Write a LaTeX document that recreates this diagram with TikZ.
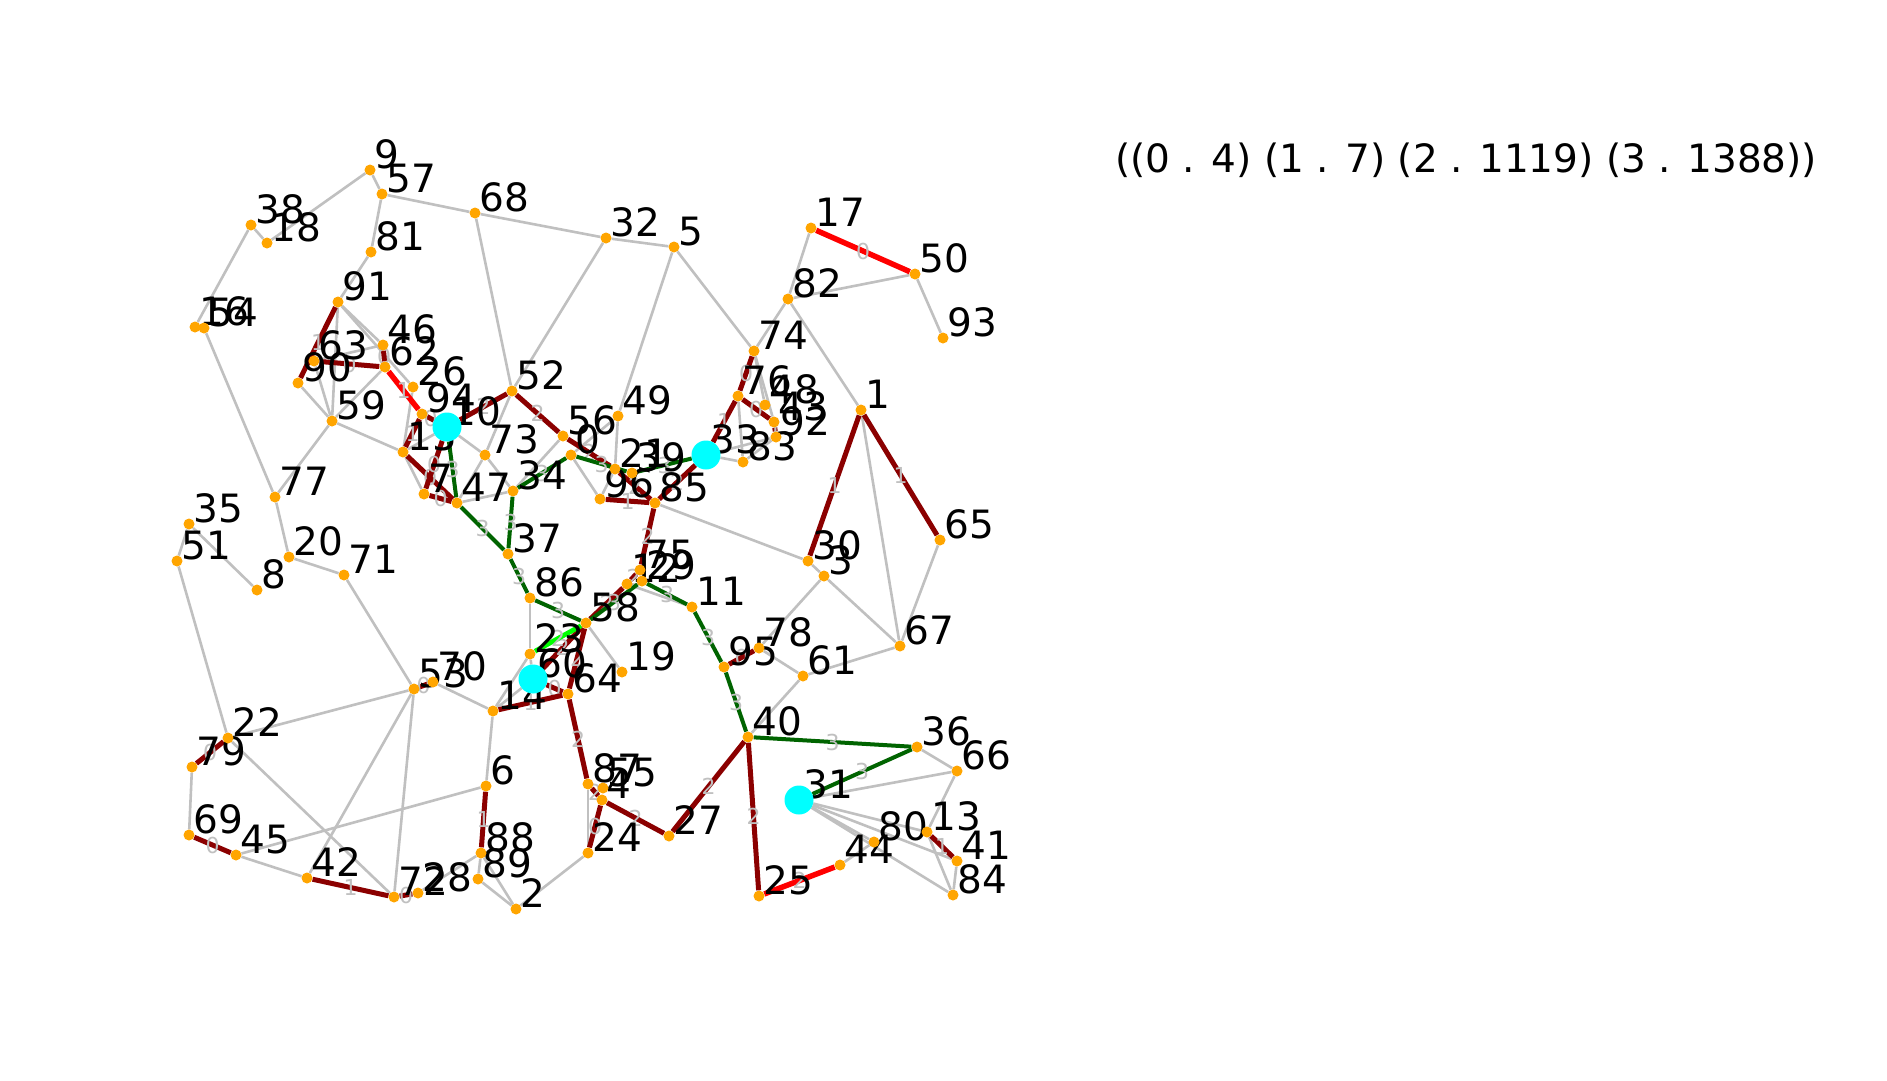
\documentclass[tikz,border=0pt]{standalone}
\usepackage{fontspec}
\setmainfont{DejaVu Sans}
\definecolor{silver}{HTML}{C0C0C0}
\definecolor{dred}{HTML}{8B0000}
\definecolor{dgreen}{HTML}{006400}
\definecolor{orange1}{HTML}{FFA500}
\definecolor{cyan1}{HTML}{00FFFF}
\definecolor{lime1}{HTML}{00FF00}
\pgfdeclarelayer{bg}
\pgfdeclarelayer{edges}
\pgfdeclarelayer{labels}
\pgfsetlayers{bg,edges,labels,main}
\tikzset{
 dot/.style={circle, fill=orange1, inner sep=0pt, minimum size=11pt},
 hub/.style={circle, fill=cyan1, inner sep=0pt, minimum size=29pt},
 lbl/.style={anchor=base west, inner sep=0pt, font=\fontsize{39}{41}\selectfont},
 gr/.style={draw=silver, line width=2.6pt},
 dr/.style={draw=dred, line width=5pt},
 gn/.style={draw=dgreen, line width=4pt},
 rd/.style={draw=red, line width=5.5pt},
 lm/.style={draw=lime1, line width=4.8pt},
 el/.style={font=\fontsize{22}{22}\selectfont, text=silver, inner sep=0pt},
}
\newcommand{\vtx}[4][dot]{%
 \node[#1] (n#2) at (#3,#4) {};
 \begin{pgfonlayer}{labels}\node[lbl] (t#2) at ({#3+4},{#4-2}) {#2};\end{pgfonlayer}}
\begin{document}
\begin{tikzpicture}[x=1pt,y=-1pt]
\begin{pgfonlayer}{bg}
\fill[white] (0,0) rectangle (1887,1080);
\end{pgfonlayer}
\useasboundingbox (0,0) rectangle (1887,1080);
\vtx{0}{571}{455}
\vtx{1}{861}{410}
\vtx{2}{516}{909}
\vtx{3}{824}{576}
\vtx{4}{602}{800}
\vtx{5}{674}{247}
\vtx{6}{486}{786}
\vtx{7}{424}{494}
\vtx{8}{257}{590}
\vtx{9}{370}{170}
\vtx{11}{692}{607}
\vtx{12}{627}{584}
\vtx{13}{927}{832}
\vtx{14}{493}{711}
\vtx{15}{403}{452}
\vtx{16}{195}{327}
\vtx{17}{811}{228}
\vtx{18}{267}{243}
\vtx{19}{622}{672}
\vtx{20}{289}{557}
\vtx{21}{615}{469}
\vtx{22}{228}{738}
\vtx{23}{530}{654}
\vtx{24}{588}{853}
\vtx{25}{759}{896}
\vtx{26}{413}{387}
\vtx{27}{669}{836}
\vtx{28}{418}{893}
\vtx{29}{642}{581}
\vtx{30}{808}{561}
\vtx{32}{606}{238}
\vtx{34}{513}{491}
\vtx{35}{189}{524}
\vtx{36}{917}{747}
\vtx{37}{508}{554}
\vtx{38}{251}{225}
\vtx{39}{632}{473}
\vtx{40}{748}{737}
\vtx{41}{957}{861}
\vtx{42}{307}{878}
\vtx{43}{774}{422}
\vtx{44}{840}{865}
\vtx{45}{236}{855}
\vtx{46}{383}{345}
\vtx{47}{457}{503}
\vtx{48}{765}{405}
\vtx{49}{618}{416}
\vtx{50}{915}{274}
\vtx{51}{177}{561}
\vtx{52}{512}{391}
\vtx{53}{414}{689}
\vtx{54}{204}{328}
\vtx{55}{603}{788}
\vtx{56}{563}{436}
\vtx{57}{382}{194}
\vtx{58}{586}{623}
\vtx{59}{332}{421}
\vtx{61}{803}{676}
\vtx{62}{385}{367}
\vtx{63}{314}{361}
\vtx{64}{568}{694}
\vtx{65}{940}{540}
\vtx{66}{957}{771}
\vtx{67}{900}{646}
\vtx{68}{475}{213}
\vtx{69}{189}{835}
\vtx{70}{433}{682}
\vtx{71}{344}{575}
\vtx{72}{394}{897}
\vtx{73}{485}{455}
\vtx{74}{754}{351}
\vtx{75}{640}{570}
\vtx{76}{738}{396}
\vtx{77}{275}{497}
\vtx{78}{759}{648}
\vtx{79}{192}{767}
\vtx{80}{874}{842}
\vtx{81}{371}{252}
\vtx{82}{788}{299}
\vtx{83}{743}{462}
\vtx{84}{953}{895}
\vtx{85}{655}{503}
\vtx{86}{530}{598}
\vtx{87}{588}{784}
\vtx{88}{481}{853}
\vtx{89}{478}{879}
\vtx{90}{298}{383}
\vtx{91}{338}{302}
\vtx{92}{776}{437}
\vtx{93}{943}{338}
\vtx{94}{422}{414}
\vtx{95}{724}{667}
\vtx{96}{600}{499}
\vtx[hub]{10}{447}{427}
\vtx[hub]{31}{799}{800}
\vtx[hub]{33}{706}{455}
\vtx[hub]{60}{533}{679}
\begin{pgfonlayer}{labels}
\node[lbl] (title) at (1115,172) {((0 . 4) (1 . 7) (2 . 1119) (3 . 1388))};
\end{pgfonlayer}
\begin{pgfonlayer}{edges}
\foreach \a/\b in {9/57, 9/18, 38/18, 38/16, 57/81, 57/68, 81/91, 91/59, 91/46, 91/26,
 63/46, 59/90, 59/63, 59/62, 59/15, 59/77, 54/77, 77/20, 20/71, 35/8, 35/51, 51/22,
 71/53, 22/53, 22/72, 79/69, 45/42, 45/6, 42/53, 72/53, 88/28, 88/89, 88/2, 89/2,
 24/2, 87/24, 14/6, 70/14, 14/60, 14/23, 23/60, 86/23, 58/19, 68/32, 32/5, 68/52,
 32/52, 5/49, 5/74, 82/17, 82/50, 82/74, 82/1, 50/93, 1/67, 65/67, 30/3, 3/67,
 85/30, 3/78, 67/61, 78/61, 61/40, 36/66, 31/66, 66/13, 31/13, 31/41, 31/80, 31/84,
 13/84, 41/84, 44/80, 10/73, 73/47, 73/34, 52/73, 47/34, 34/56, 49/21, 49/0, 0/96,
 96/21, 12/11, 26/15, 15/10, 15/7, 74/48, 74/43, 76/83, 33/83, 33/92, 83/92}
 \draw[gr] (n\a) -- (n\b);
\foreach \a/\b/\w in {91/90/1, 63/62/0, 46/62/0, 94/10/0, 10/52/2, 15/94/1, 15/47/0,
 7/10/0, 7/47/0, 52/56/2, 56/21/2, 21/85/2, 96/85/1, 85/33/2, 33/76/1, 74/76/0,
 76/43/0, 43/92/1, 1/30/1, 1/65/1, 95/78/0, 85/75/2, 75/12/2, 12/58/2, 58/64/2,
 58/60/2, 60/64/0, 14/64/1, 64/87/2, 87/4/2, 4/27/2, 4/24/0, 27/40/2, 40/25/2,
 6/88/1, 13/41/1, 22/79/0, 69/45/0, 42/72/1, 72/28/0, 53/70/0}
 \draw[dr] (n\a) -- node[el]{\w} (n\b);
\foreach \a/\b/\w in {17/50/0, 62/94/1, 25/44/2}
 \draw[rd] (n\a) -- node[el]{\w} (n\b);
\foreach \a/\b in {10/47, 47/37, 37/34, 34/0, 0/39, 39/33, 37/86, 86/58, 58/29,
 29/11, 11/95, 95/40, 40/36, 36/31}
 \draw[gn] (n\a) -- node[el]{3} (n\b);
\draw[lm] (n58) -- node[el]{2} (n23);
\end{pgfonlayer}
\end{tikzpicture}
\end{document}
